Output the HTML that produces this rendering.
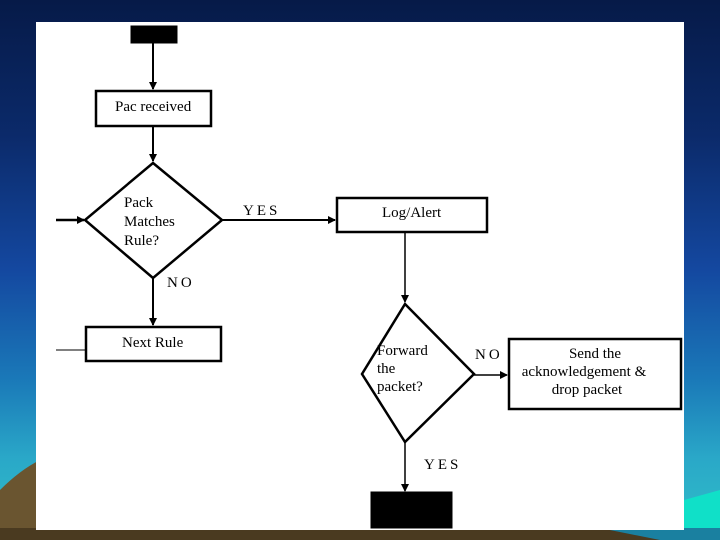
<!DOCTYPE html>
<html><head><style>
html,body{margin:0;padding:0;}
body{width:720px;height:540px;overflow:hidden;position:relative;background:linear-gradient(#061a48 0%,#0b2a6a 25%,#1448a0 50%,#1a78b8 70%,#2aa8c8 85%,#30c0c8 100%);font-family:"Liberation Serif",serif;}
</style></head><body>
<svg width="720" height="540" style="position:absolute;left:0;top:0">
<defs><marker id="a" markerWidth="8" markerHeight="8" refX="7" refY="4" orient="auto" markerUnits="userSpaceOnUse"><path d="M0,0 L8,4 L0,8z" fill="#000"/></marker></defs>
<path d="M0,490 Q20,470 40,460 L40,540 L0,540z" fill="#6a5530"/>
<path d="M684,500 L720,490 L720,540 L684,540z" fill="#10e0c8"/>
<rect x="0" y="528" width="720" height="12" fill="#4a3a20"/>
<path d="M600,528 L660,540 L720,540 L720,528z" fill="#1a80a0"/>
<rect x="36" y="22" width="648" height="508" fill="#fff"/>
<g stroke="#000" fill="none">
<rect x="131" y="26" width="46" height="17" fill="#000"/>
<line x1="153" y1="43" x2="153" y2="89" stroke-width="2" marker-end="url(#a)"/>
<rect x="96" y="91" width="115" height="35" stroke-width="2.5"/>
<line x1="153" y1="126" x2="153" y2="161" stroke-width="2" marker-end="url(#a)"/>
<path d="M153,163 L222,220 L153,278 L85,220z" stroke-width="2.5"/>
<line x1="56" y1="220" x2="84" y2="220" stroke-width="2.5" marker-end="url(#a)"/>
<line x1="222" y1="220" x2="335" y2="220" stroke-width="2" marker-end="url(#a)"/>
<rect x="337" y="198" width="150" height="34" stroke-width="2.5"/>
<line x1="405" y1="232" x2="405" y2="302" stroke-width="1.5" marker-end="url(#a)"/>
<path d="M405,304 L474,374 L405,442 L362,374z" stroke-width="2.5"/>
<line x1="474" y1="375" x2="507" y2="375" stroke-width="1.5" marker-end="url(#a)"/>
<rect x="509" y="339" width="172" height="70" stroke-width="2.5"/>
<line x1="405" y1="442" x2="405" y2="491" stroke-width="1.5" marker-end="url(#a)"/>
<rect x="371" y="492" width="81" height="36" fill="#000"/>
<line x1="153" y1="278" x2="153" y2="325" stroke-width="2" marker-end="url(#a)"/>
<rect x="86" y="327" width="135" height="34" stroke-width="2.5"/>
<line x1="56" y1="350" x2="86" y2="350" stroke-width="1"/>
</g>
<g font-size="15" fill="#000" font-family="Liberation Serif,serif">
<text x="115" y="111">Pac received</text>
<text x="124" y="207">Pack</text>
<text x="124" y="226">Matches</text>
<text x="124" y="245">Rule?</text>
<text x="243" y="215" letter-spacing="3">YES</text>
<text x="167" y="287" letter-spacing="3">NO</text>
<text x="382" y="217">Log/Alert</text>
<text x="122" y="347">Next Rule</text>
<text x="377" y="355">Forward</text>
<text x="377" y="373">the</text>
<text x="377" y="391">packet?</text>
<text x="475" y="359" letter-spacing="3">NO</text>
<text x="595" y="358" text-anchor="middle">Send the</text>
<text x="584" y="376" text-anchor="middle">acknowledgement &amp;</text>
<text x="587" y="394" text-anchor="middle">drop packet</text>
<text x="424" y="469" letter-spacing="3">YES</text>
</g>
</svg>
</body></html>
